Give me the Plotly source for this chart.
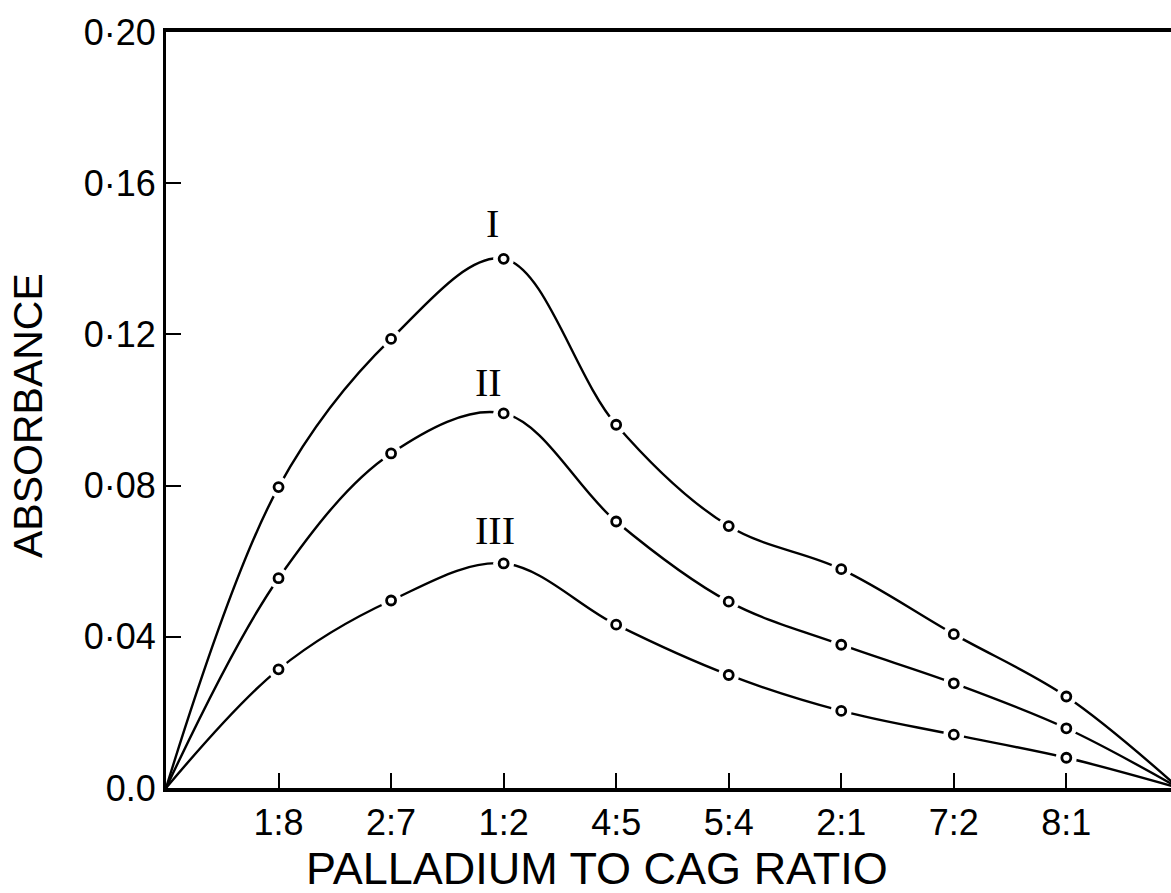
import plotly.graph_objects as go

# x positions (index along the ratio axis); 0 and 9 are the end points
x_pos = [0, 1, 2, 3, 4, 5, 6, 7, 8, 9]
tick_pos = [1, 2, 3, 4, 5, 6, 7, 8]
tick_labels = ["1:8", "2:7", "1:2", "4:5", "5:4", "2:1", "7:2", "8:1"]

curve_I = [0.0, 0.0796, 0.1188, 0.1400, 0.0961, 0.0693, 0.0579, 0.0407, 0.0242, 0.0]
curve_II = [0.0, 0.0555, 0.0885, 0.0991, 0.0705, 0.0493, 0.0379, 0.0277, 0.0158, 0.0]
curve_III = [0.0, 0.0314, 0.0496, 0.0594, 0.0432, 0.0299, 0.0204, 0.0141, 0.0080, 0.0]

y_ticks = [0.0, 0.04, 0.08, 0.12, 0.16, 0.20]
y_tick_labels = ["0.0", "0·04", "0·08", "0·12", "0·16", "0·20"]

series = [("I", curve_I), ("II", curve_II), ("III", curve_III)]
# label offsets in pixels relative to each curve's peak marker
label_shift = {"I": (-11, 35), "II": (-15, 31), "III": (-9, 33)}

fig = go.Figure()
font_sans = "Liberation Sans, Arial, sans-serif"
font_serif = "Liberation Serif, Times New Roman, serif"

for name, ys in series:
    fig.add_trace(go.Scatter(
        x=x_pos, y=ys, mode="lines",
        line=dict(color="black", width=2.4, shape="spline", smoothing=1.0),
        showlegend=False, hoverinfo="skip", cliponaxis=True))

for name, ys in series:
    # white halo creating the gap between line and marker
    fig.add_trace(go.Scatter(
        x=x_pos[1:-1], y=ys[1:-1], mode="markers",
        marker=dict(symbol="circle", size=21, color="white", line=dict(width=0)),
        showlegend=False, hoverinfo="skip"))
    fig.add_trace(go.Scatter(
        x=x_pos[1:-1], y=ys[1:-1], mode="markers",
        marker=dict(symbol="circle", size=9, color="white", line=dict(color="black", width=2.8)),
        showlegend=False, hoverinfo="skip"))

for name, ys in series:
    dx, dy = label_shift[name]
    fig.add_annotation(x=x_pos[3], y=ys[3], text=name, showarrow=False,
                       xshift=dx, yshift=dy,
                       font=dict(family=font_serif, size=40, color="black"))

# axis titles
fig.add_annotation(xref="paper", yref="paper", x=(597 - 166) / 1005, y=0,
                   yshift=-80, text="PALLADIUM TO CAG RATIO", showarrow=False,
                   xanchor="center", yanchor="middle",
                   font=dict(family=font_sans, size=45, color="black"))
fig.add_annotation(xref="paper", yref="paper", x=0, y=(788 - 416) / 756,
                   xshift=-138, text="ABSORBANCE", showarrow=False, textangle=-90,
                   xanchor="center", yanchor="middle",
                   font=dict(family=font_sans, size=41, color="black"))

fig.update_layout(
    width=1171, height=893,
    margin=dict(l=166, r=0, t=32, b=105),
    paper_bgcolor="white", plot_bgcolor="white",
    font=dict(family=font_sans, color="black"),
)
fig.update_xaxes(
    range=[0, 8.93], showgrid=False, zeroline=False,
    showline=True, linecolor="black", linewidth=4, mirror=True,
    ticks="inside", ticklen=15, tickwidth=2, tickcolor="black",
    tickvals=tick_pos, ticktext=tick_labels,
    tickfont=dict(size=36, family=font_sans),
)
fig.update_yaxes(
    range=[0, 0.20], showgrid=False, zeroline=False,
    showline=True, linecolor="black", linewidth=3,
    ticks="inside", ticklen=15, tickwidth=2, tickcolor="black",
    tickvals=y_ticks, ticktext=y_tick_labels,
    tickfont=dict(size=36, family=font_sans),
)

fig.write_html("out.html")
